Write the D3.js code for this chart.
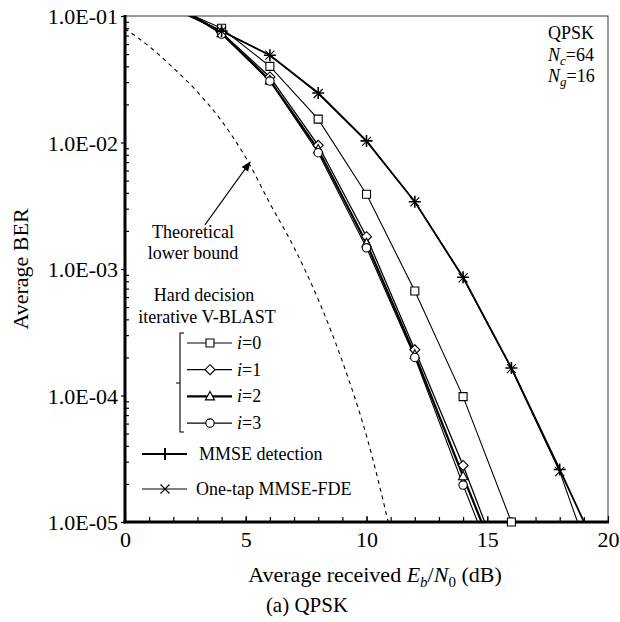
<!DOCTYPE html>
<html>
<head>
<meta charset="utf-8">
<script src="https://cdn.jsdelivr.net/npm/d3@7"></script>
<style>
body { margin: 0; background: #fff; }
svg { display: block; }
text { font-family: "Liberation Serif", "Times New Roman", serif; fill: #000; }
</style>
</head>
<body>
<svg id="chart" width="620" height="622"></svg>
<script>
// data (BER vs Eb/N0 in dB)
const snr = [2, 4, 6, 8, 10, 12, 14, 16];
const berIter0 = [0.118, 0.080, 0.040, 0.0153, 0.0039, 6.7e-4, 9.8e-5, 1.0e-5];
const berIter1 = [0.125, 0.074, 0.033, 0.0095, 0.0018, 2.3e-4, 2.8e-5, 2.8e-6];
const berIter2 = [0.125, 0.073, 0.031, 0.0088, 0.0016, 2.1e-4, 2.3e-5, 2.6e-6];
const berIter3 = [0.125, 0.072, 0.0306, 0.0083, 0.00147, 2.0e-4, 1.96e-5, 2.1e-6];

const snrMmse = [2, 4, 6, 8, 10, 12, 14, 16, 18, 20];
const berMmseDet = [0.115, 0.076, 0.049, 0.0246, 0.0103, 0.0034, 8.6e-4, 1.65e-4, 2.6e-5, 3.9e-6];
const berOneTap = [0.115, 0.076, 0.049, 0.0244, 0.0102, 0.0034, 8.5e-4, 1.63e-4, 2.5e-5, 2.1e-6];

const snrTheory = [0, 1, 2, 3, 4, 5, 6, 7, 8, 9, 10, 11];
const berTheory = [0.0794, 0.0575, 0.0389, 0.0251, 0.0148, 0.0076, 0.0033, 0.00148, 5.75e-4, 1.86e-4, 4.8e-5, 8.3e-6];

const xTicks = [0, 5, 10, 15, 20];
const yTicks = [1e-5, 1e-4, 1e-3, 1e-2, 1e-1];
const yTickLabels = ["1.0E-05", "1.0E-04", "1.0E-03", "1.0E-02", "1.0E-01"];
const iterLabels = ["0", "1", "2", "3"];

const svg = d3.select("#chart");
const pLeft = 125, pRight = 608, pTop = 16, pBottom = 522;

const x = d3.scaleLinear().domain([0, 20]).range([pLeft, pRight]);
const y = d3.scaleLog().domain([1e-5, 1e-1]).range([pBottom, pTop]);

// marker shapes
const shapes = {
    square: "M-4,-4H4V4H-4Z",
    diamond: "M0,-5L5,0L0,5L-5,0Z",
    triangle: "M0,-5L4.6,3.5H-4.6Z",
    plus: "M-6,0H6M0,-6V6",
    cross: "M-4.5,-4.5L4.5,4.5M-4.5,4.5L4.5,-4.5"
};
function marker(g, type, cx, cy, sw) {
    if (type === "circle") {
        g.append("circle").attr("cx", cx).attr("cy", cy).attr("r", 4.2)
            .attr("fill", "#fff").attr("stroke", "#000").attr("stroke-width", sw || 1);
    } else {
        let open = type === "plus" || type === "cross";
        g.append("path").attr("d", shapes[type])
            .attr("transform", "translate(" + cx + "," + cy + ")")
            .attr("fill", open ? "none" : "#fff")
            .attr("stroke", "#000").attr("stroke-width", sw || 1);
    }
}

// clip
svg.append("clipPath").attr("id", "plotclip")
    .append("rect").attr("x", pLeft).attr("y", pTop)
    .attr("width", pRight - pLeft).attr("height", pBottom - pTop);

// frame: thin top / right
svg.append("rect").attr("x", pLeft).attr("y", pTop)
    .attr("width", pRight - pLeft).attr("height", pBottom - pTop)
    .attr("fill", "none").attr("stroke", "#333").attr("stroke-width", 1);

// minor ticks (inside)
let yMinor = [];
for (let e = -5; e < -1; e++) {
    for (let m = 2; m <= 9; m++) yMinor.push(m * Math.pow(10, e));
}
svg.append("g").attr("transform", "translate(" + pLeft + ",0)")
    .call(d3.axisLeft(y).tickValues(yMinor).tickSize(-4).tickFormat(""))
    .call(g => g.select(".domain").remove())
    .selectAll("line").attr("stroke-width", 1.2);

svg.append("g").attr("transform", "translate(0," + pBottom + ")")
    .call(d3.axisBottom(x).tickValues(d3.range(1, 20)).tickSize(-5).tickFormat(""))
    .call(g => g.select(".domain").remove())
    .selectAll("line").attr("stroke-width", 1.2);

// major ticks + labels
const yAxis = svg.append("g").attr("transform", "translate(" + pLeft + ",0)")
    .call(d3.axisLeft(y).tickValues(yTicks).tickSize(4).tickPadding(3)
        .tickFormat((d, i) => yTickLabels[i]));
yAxis.select(".domain").remove();
yAxis.selectAll("line").attr("stroke-width", 1.2);
yAxis.selectAll("text").attr("font-size", 22).attr("dy", "0.36em")
    .style("font-family", "'Liberation Serif', serif");

const xAxis = svg.append("g").attr("transform", "translate(0," + pBottom + ")")
    .call(d3.axisBottom(x).tickValues(xTicks).tickSize(-6).tickPadding(9)
        .tickFormat(d3.format("d")));
xAxis.select(".domain").remove();
xAxis.selectAll("line").attr("stroke-width", 1.2);
xAxis.selectAll("text").attr("font-size", 22)
    .style("font-family", "'Liberation Serif', serif");

// thick left and bottom axis lines
svg.append("line").attr("x1", pLeft).attr("x2", pLeft).attr("y1", pTop - 1).attr("y2", pBottom + 1.5)
    .attr("stroke", "#000").attr("stroke-width", 3);
svg.append("line").attr("x1", pLeft - 1.5).attr("x2", pRight + 1).attr("y1", pBottom).attr("y2", pBottom)
    .attr("stroke", "#000").attr("stroke-width", 3);

// curves
const line = d3.line().x(d => x(d[0])).y(d => y(d[1]));
const plot = svg.append("g").attr("clip-path", "url(#plotclip)");

plot.append("path")
    .attr("d", line.curve(d3.curveMonotoneX)(d3.zip(snrTheory, berTheory)))
    .attr("fill", "none").attr("stroke", "#000").attr("stroke-width", 1.1)
    .attr("stroke-dasharray", "4,4");
line.curve(d3.curveLinear);

const series = [
    { xs: snr, ys: berIter0, sym: "square", lw: 1.1 },
    { xs: snr, ys: berIter1, sym: "diamond", lw: 1.3 },
    { xs: snr, ys: berIter2, sym: "triangle", lw: 2.2 },
    { xs: snr, ys: berIter3, sym: "circle", lw: 1.1 },
    { xs: snrMmse, ys: berOneTap, sym: "cross", lw: 1.1 },
    { xs: snrMmse, ys: berMmseDet, sym: "plus", lw: 1.8 }
];
series.forEach(s => {
    plot.append("path").attr("d", line(d3.zip(s.xs, s.ys)))
        .attr("fill", "none").attr("stroke", "#000").attr("stroke-width", s.lw);
});
const marks = svg.append("g");
series.forEach(s => {
    d3.zip(s.xs, s.ys).forEach(p => {
        if (p[1] >= 1e-5 && p[1] <= 1e-1) {
            marker(marks, s.sym, x(p[0]), y(p[1]), s.sym === "plus" ? 1.6 : 1.1);
        }
    });
});

// axis titles
svg.append("text").attr("transform", "translate(28," + ((pTop + pBottom) / 2) + ") rotate(-90)")
    .attr("text-anchor", "middle").attr("font-size", 22).text("Average BER");

const xt = svg.append("text").attr("x", 375).attr("y", 582)
    .attr("text-anchor", "middle").attr("font-size", 22);
xt.append("tspan").text("Average received ");
xt.append("tspan").attr("font-style", "italic").text("E");
xt.append("tspan").attr("font-style", "italic").attr("font-size", 15).attr("dy", 5).text("b");
xt.append("tspan").attr("dy", -5).text("/");
xt.append("tspan").attr("font-style", "italic").text("N");
xt.append("tspan").attr("font-size", 15).attr("dy", 5).text("0");
xt.append("tspan").attr("dy", -5).text(" (dB)");

svg.append("text").attr("x", 307).attr("y", 612).attr("text-anchor", "middle")
    .attr("font-size", 21).text("(a) QPSK");

// top-right parameters
const info = svg.append("g").attr("font-size", 18);
info.append("text").attr("x", 548).attr("y", 39).text("QPSK");
const nc = info.append("text").attr("x", 548).attr("y", 61);
nc.append("tspan").attr("font-style", "italic").text("N");
nc.append("tspan").attr("font-style", "italic").attr("font-size", 13).attr("dy", 4).text("c");
nc.append("tspan").attr("dy", -4).text("=64");
const ng = info.append("text").attr("x", 548).attr("y", 82);
ng.append("tspan").attr("font-style", "italic").text("N");
ng.append("tspan").attr("font-style", "italic").attr("font-size", 13).attr("dy", 4).text("g");
ng.append("tspan").attr("dy", -4).text("=16");

// theoretical bound annotation
svg.append("defs").append("marker").attr("id", "arrow")
    .attr("viewBox", "0 0 10 10").attr("refX", 9).attr("refY", 5)
    .attr("markerWidth", 10).attr("markerHeight", 10).attr("markerUnits", "userSpaceOnUse")
    .attr("orient", "auto")
    .append("path").attr("d", "M0,1L10,5L0,9Z").attr("fill", "#000");
svg.append("line")
    .attr("x1", x(3.31)).attr("y1", y(0.00223))
    .attr("x2", x(5.18)).attr("y2", y(0.0070))
    .attr("stroke", "#000").attr("stroke-width", 1.1)
    .attr("marker-end", "url(#arrow)");
const tl = svg.append("g").attr("font-size", 18).attr("text-anchor", "middle");
tl.append("text").attr("x", 193).attr("y", 238).text("Theoretical");
tl.append("text").attr("x", 193).attr("y", 259).text("lower bound");

// legend
const lg = svg.append("g").attr("font-size", 18);
lg.append("text").attr("x", 204).attr("y", 301).attr("text-anchor", "middle").text("Hard decision");
lg.append("text").attr("x", 207).attr("y", 323).attr("text-anchor", "middle").text("iterative V-BLAST");
lg.append("path").attr("d", "M184,333H180V432H184M180,383H176")
    .attr("fill", "none").attr("stroke", "#000").attr("stroke-width", 1.1);

iterLabels.forEach((lab, i) => {
    let s = series[i];
    let ly = 343 + i * 26.7;
    lg.append("line").attr("x1", 187).attr("x2", 232).attr("y1", ly).attr("y2", ly)
        .attr("stroke", "#000").attr("stroke-width", s.lw);
    marker(lg, s.sym, 210, ly, 1.1);
    let t = lg.append("text").attr("x", 237).attr("y", ly + 6);
    t.append("tspan").attr("font-style", "italic").text("i");
    t.append("tspan").text("=" + lab);
});

const other = [
    { sym: "plus", lw: 1.8, ly: 454, label: "MMSE detection", tx: 199 },
    { sym: "cross", lw: 1.1, ly: 489, label: "One-tap MMSE-FDE", tx: 196 }
];
other.forEach(o => {
    lg.append("line").attr("x1", 142).attr("x2", 187).attr("y1", o.ly).attr("y2", o.ly)
        .attr("stroke", "#000").attr("stroke-width", o.lw);
    marker(lg, o.sym, 165, o.ly, o.sym === "plus" ? 2 : 1.1);
    lg.append("text").attr("x", o.tx).attr("y", o.ly + 6).text(o.label);
});
</script>
</body>
</html>
